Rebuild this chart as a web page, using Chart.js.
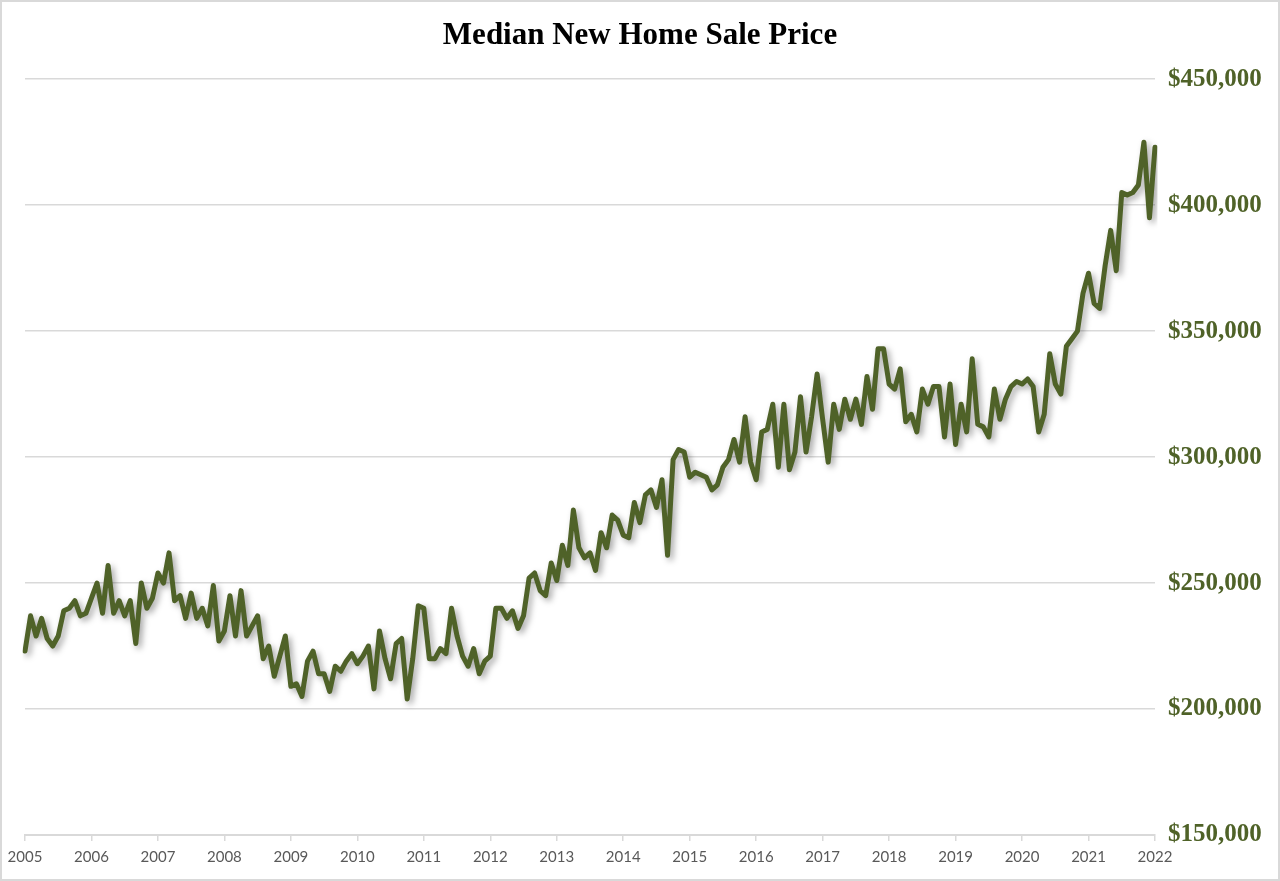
<!DOCTYPE html>
<html>
<head>
<meta charset="utf-8">
<title>Median New Home Sale Price</title>
<script src="https://cdn.jsdelivr.net/npm/chart.js@4/dist/chart.umd.min.js"></script>
<style>
  html, body { margin: 0; padding: 0; background: #fff; }
  canvas { display: block; }
</style>
</head>
<body>
<canvas id="lineChart" width="1280" height="881"></canvas>
<script>
// tick labels (one per January)
const years = ["2005", "2006", "2007", "2008", "2009", "2010", "2011", "2012", "2013",
  "2014", "2015", "2016", "2017", "2018", "2019", "2020", "2021", "2022"];

// monthly median price, Jan 2005 .. Jan 2022
const prices = [
  223000, 237000, 229000, 236000, 228000, 225000, 229000, 239000, 240000, 243000, 237000, 238000,
  244000, 250000, 238000, 257000, 238000, 243000, 237000, 243000, 226000, 250000, 240000, 244000,
  254000, 250000, 262000, 243000, 245000, 236000, 246000, 236000, 240000, 233000, 249000, 227000,
  231000, 245000, 229000, 247000, 229000, 233000, 237000, 220000, 225000, 213000, 221000, 229000,
  209000, 210000, 205000, 219000, 223000, 214000, 214000, 207000, 217000, 215000, 219000, 222000,
  218000, 221000, 225000, 208000, 231000, 220000, 212000, 226000, 228000, 204000, 220000, 241000,
  240000, 220000, 220000, 224000, 222000, 240000, 229000, 221000, 217000, 224000, 214000, 219000,
  221000, 240000, 240000, 236000, 239000, 232000, 237000, 252000, 254000, 247000, 245000, 258000,
  251000, 265000, 257000, 279000, 264000, 260000, 262000, 255000, 270000, 264000, 277000, 275000,
  269000, 268000, 282000, 274000, 285000, 287000, 280000, 291000, 261000, 299000, 303000, 302000,
  292000, 294000, 293000, 292000, 287000, 289000, 296000, 299000, 307000, 298000, 316000, 298000,
  291000, 310000, 311000, 321000, 296000, 321000, 295000, 302000, 324000, 302000, 316000, 333000,
  315000, 298000, 321000, 311000, 323000, 315000, 323000, 313000, 332000, 319000, 343000, 343000,
  329000, 327000, 335000, 314000, 317000, 310000, 327000, 321000, 328000, 328000, 308000, 329000,
  305000, 321000, 310000, 339000, 313000, 312000, 308000, 327000, 315000, 323000, 328000, 330000,
  329000, 331000, 328000, 310000, 317000, 341000, 329000, 325000, 344000, 347000, 350000, 365000,
  373000, 361000, 359000, 376000, 390000, 374000, 405000, 404000, 405000, 408000, 425000, 395000,
  423000
];

const months = ["01", "02", "03", "04", "05", "06", "07", "08", "09", "10", "11", "12"];
const labels = [];
years.forEach(y => months.forEach(m => labels.push(y + "-" + m)));
labels.length = prices.length;

const olive = "#4F6228";
const gridGray = "#d9d9d9";

// soft drop shadow under the line
const shadow = {
  id: "shadow",
  beforeDatasetsDraw(chart) {
    const ctx = chart.ctx;
    ctx.save();
    ctx.shadowColor = "rgba(0,0,0,0.35)";
    ctx.shadowBlur = 6;
    ctx.shadowOffsetX = 3;
    ctx.shadowOffsetY = 3;
  },
  afterDatasetsDraw(chart) {
    chart.ctx.restore();
  }
};

// thin frame round the whole picture
const frame = {
  id: "frame",
  beforeDraw(chart) {
    const ctx = chart.ctx;
    ctx.save();
    ctx.fillStyle = "#fff";
    ctx.fillRect(0, 0, chart.width, chart.height);
    ctx.strokeStyle = gridGray;
    ctx.lineWidth = 2;
    ctx.strokeRect(1, 1, chart.width - 2, chart.height - 2);
    ctx.restore();
  }
};

new Chart(document.getElementById("lineChart"), {
  type: "line",
  data: {
    labels: labels,
    datasets: [{
      label: "Median New Home Sale Price",
      data: prices,
      xAxisID: "x",
      yAxisID: "y",
      borderColor: olive,
      borderWidth: 5,
      borderJoinStyle: "round",
      borderCapStyle: "round",
      pointRadius: 0,
      fill: false,
      tension: 0
    }]
  },
  options: {
    responsive: false,
    animation: false,
    layout: { padding: { left: 0, right: 0, top: 0, bottom: 6 } },
    plugins: {
      legend: { display: false },
      tooltip: { enabled: false },
      title: {
        display: true,
        text: "Median New Home Sale Price",
        color: "#000",
        font: { family: "'Liberation Serif', serif", size: 31, weight: "bold" },
        padding: { top: 17, bottom: 25 }
      }
    },
    scales: {
      x: {
        type: "category",
        grid: {
          drawOnChartArea: false,
          drawTicks: true,
          tickLength: 6,
          lineWidth: 1.5,
          color: c => (c.index % 12 === 0 ? gridGray : "transparent")
        },
        border: { color: gridGray, width: 2 },
        ticks: {
          autoSkip: false,
          maxRotation: 0,
          padding: 7,
          color: "#595959",
          font: { family: "Lato, sans-serif", size: 15 },
          callback: (v, i) => (i % 12 === 0 ? years[i / 12] : "")
        },
        afterFit: s => { s.height = 40; }
      },
      y: {
        position: "right",
        min: 150000,
        max: 450000,
        grid: { color: gridGray, lineWidth: 1.5, drawTicks: false },
        border: { display: false },
        ticks: {
          stepSize: 50000,
          padding: 13,
          color: olive,
          font: { family: "'Liberation Serif', serif", size: 25, weight: "bold" },
          callback: v => "$" + v.toLocaleString("en-US")
        },
        afterFit: s => { s.width = 125; }
      },
      // empty left axis, only keeps the plot 25px off the left edge
      gap: {
        type: "linear",
        position: "left",
        grid: { display: false },
        border: { display: false },
        ticks: { display: false },
        afterFit: s => { s.width = 25; }
      }
    }
  },
  plugins: [frame, shadow]
});
</script>
</body>
</html>
